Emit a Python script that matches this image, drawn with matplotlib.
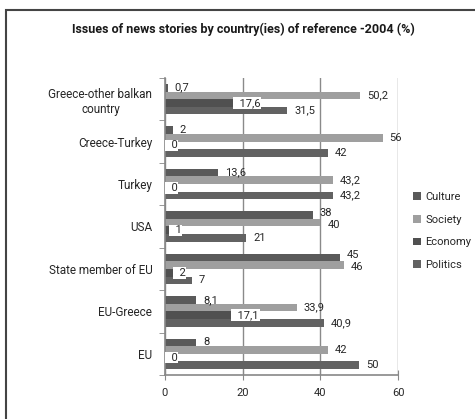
import numpy as np
import matplotlib.pyplot as plt
from matplotlib.patches import Rectangle

plt.rcParams['font.family'] = ['Roboto', 'DejaVu Sans']

# categories listed top to bottom
countries = ["Greece-other balkan\ncountry", "Creece-Turkey", "Turkey", "USA",
             "State member of EU", "EU-Greece", "EU"]
series = ["Culture", "Society", "Economy", "Politics"]

culture = [0.7, 2, 13.6, 38, 45, 8.1, 8]
society = [50.2, 56, 43.2, 40, 46, 33.9, 42]
economy = [17.6, 0, 0, 1, 2, 17.1, 0]
politics = [31.5, 42, 43.2, 21, 7, 40.9, 50]

colors = ["#5a5a5a", "#9f9f9f", "#505050", "#626262"]
text_col = "#262626"


def fmt(v):
    # decimal comma, no trailing zero
    s = ("%g" % v)
    return s.replace(".", ",")


fig = plt.figure(figsize=(4.75, 4.19), dpi=100)
ax = fig.add_axes([0.347, 0.105, 0.491, 0.709])

y = np.arange(len(countries))
h = 0.18
all_vals = [culture, society, economy, politics]
for j, (name, vals) in enumerate(zip(series, all_vals)):
    pos = y + (j - 1.5) * h
    ax.barh(pos, vals, height=h, color=colors[j], label=name, zorder=2)
    for i, (p, v) in enumerate(zip(pos, vals)):
        if name == "Economy":
            # economy labels sit on a white box that starts at the bar end
            ax.text(v + 0.25, p, "  " + fmt(v), va="center", ha="left", fontsize=8,
                    color=text_col, zorder=3,
                    bbox=dict(facecolor="white", edgecolor="none", pad=0.6))
            continue
        dy = 0.0
        # spread labels apart where culture and society end close together
        if j in (0, 1) and abs(culture[i] - society[i]) < 3:
            dy = -0.05 if j == 0 else 0.05
        ax.text(v + 1.8, p + dy, fmt(v), va="center", ha="left", fontsize=8,
                color=text_col, zorder=3)

ax.set_xlim(0, 60)
ax.set_ylim(len(countries) - 0.5, -0.5)
ax.set_xticks([0, 20, 40, 60])
ax.set_xticklabels(["0", "20", "40", "60"], fontsize=8, color=text_col)
ax.set_yticks(y)
ax.set_yticklabels(countries, fontsize=8.5, color=text_col, multialignment="center")
ax.set_yticks(np.arange(len(countries) + 1) - 0.5, minor=True)
ax.tick_params(axis="y", which="major", length=0, pad=9)
ax.tick_params(axis="y", which="minor", length=4, color="#888888", direction="out")
ax.tick_params(axis="x", length=7, direction="inout", color="#888888", pad=6)

ax.grid(axis="x", color="#8a8a8a", lw=1, zorder=0)
ax.set_axisbelow(True)
for s in ["top", "right"]:
    ax.spines[s].set_visible(False)
for s in ["left", "bottom"]:
    ax.spines[s].set_color("#888888")
    ax.spines[s].set_linewidth(1.2)

fig.legend(loc="upper left", bbox_to_anchor=(0.848, 0.566), frameon=False,
           fontsize=8, handlelength=0.7, handleheight=0.7, handletextpad=0.4,
           labelspacing=1.15, labelcolor=text_col)

fig.suptitle("Issues of news stories by country(ies) of reference -2004 (%)",
             x=0.512, y=0.946, fontsize=9, fontweight="bold", color="#1a1a1a")

# outer chart border
fig.patches.append(Rectangle((6 / 475, -0.1), 1.2, 1.076, transform=fig.transFigure,
                             fill=False, edgecolor="#444444", lw=1.5))

fig.savefig("out.png", dpi=100)
